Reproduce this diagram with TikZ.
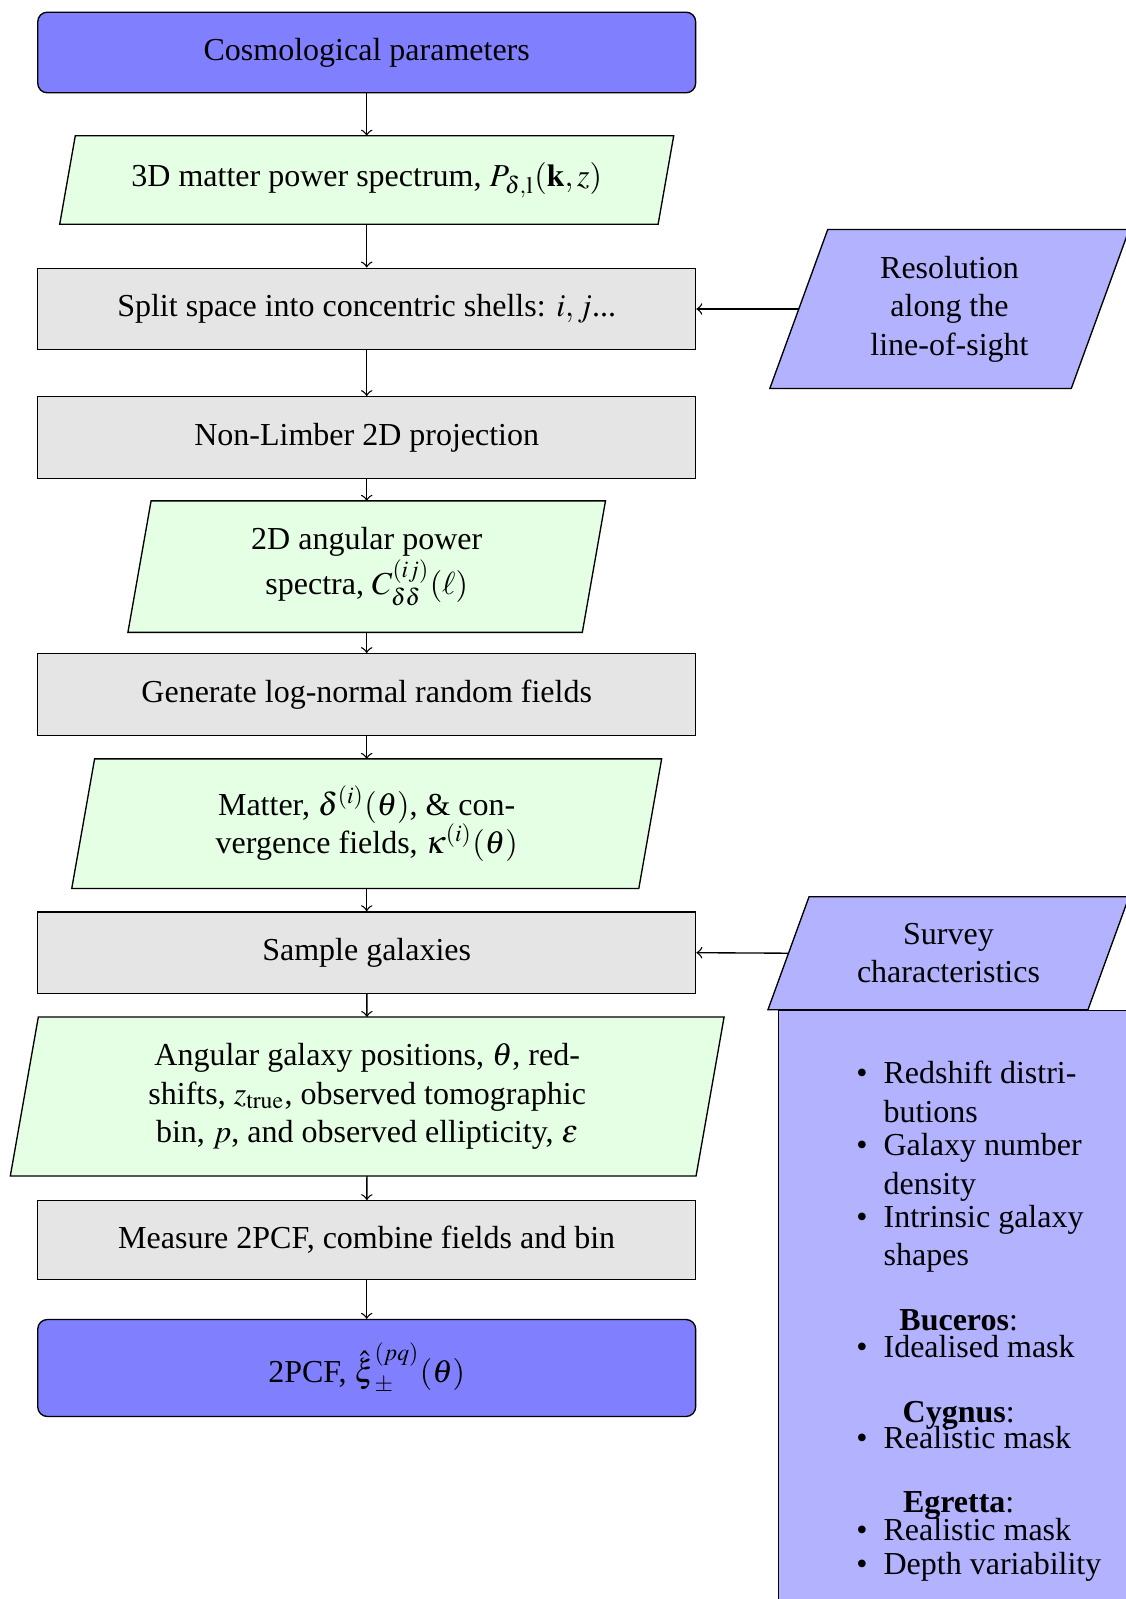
\documentclass[tikz,border=0pt]{standalone}
\usepackage{amsmath}
\usepackage{mathptmx}
\usepackage{fontspec}
\setmainfont{Liberation Serif}
\usetikzlibrary{backgrounds}

% slanted (parallelogram) frame drawn around a named node:
% #1 style, #2 node name, #3 half the horizontal slant offset
\newcommand\slantframe[3]{%
  \path[#1] ([xshift=#3]#2.north west) -- ([xshift=#3]#2.north east)
    -- ([xshift=-#3]#2.south east) -- ([xshift=-#3]#2.south west) -- cycle;}

\begin{document}
\begin{tikzpicture}[x=0.3125pt, y=-0.3125pt,
  base/.style={draw, inner sep=2pt, line width=0.42pt},
  terminal/.style={base, rectangle, rounded corners=3pt, fill=blue!50, minimum width=205.6pt},
  process/.style={base, rectangle, fill=gray!20, minimum width=205.6pt, minimum height=25.5pt},
  slanted/.style={rectangle, inner sep=2pt, outer sep=0pt, align=center},
  datashape/.style={draw, line width=0.42pt, fill=green!10},
  inputshape/.style={draw, line width=0.42pt, fill=blue!30},
  listbox/.style={base, rectangle, fill=blue!30},
  flow/.style={->, line width=0.42pt}]

\useasboundingbox (0,0) rectangle (1125,1599);
\clip (0,0) rectangle (1125,1599);

% main pipeline
\node[terminal, minimum height=25.2pt] (cosmo) at (366.7,52.5) {Cosmological parameters};
\node[slanted, minimum width=187.0pt, minimum height=27.7pt] (power) at (366.7,180)
  {3D matter power spectrum, $P_{\delta,\mathrm{l}}(\mathbf{k},z)$};
\node[process] (shells) at (366.7,309) {Split space into concentric shells: $i, j$...};
\node[process] (limber) at (366.7,437.6) {Non-Limber 2D projection};
\node[slanted, minimum width=142.0pt, minimum height=41.1pt] (cls) at (366.7,566.6)
  {2D angular power\\spectra, $C^{(ij)}_{\delta\delta}(\ell)$};
\node[process] (lognormal) at (366.7,694.6) {Generate log-normal random fields};
\node[slanted, minimum width=177.2pt, minimum height=40.5pt] (fields) at (366.7,823.7)
  {Matter, $\delta^{(i)}(\boldsymbol{\theta})$, \& con-\\vergence fields, $\boldsymbol{\kappa}^{(i)}(\boldsymbol{\theta})$};
\node[process] (sample) at (366.7,952.7) {Sample galaxies};
\node[slanted, minimum width=214.3pt, minimum height=49.7pt] (catalogue) at (367.2,1096.5)
  {Angular galaxy positions, $\boldsymbol{\theta}$, red-\\shifts, $z_{\mathrm{true}}$, observed tomographic\\bin, $p$, and observed ellipticity, $\boldsymbol{\varepsilon}$};
\node[process, minimum height=24.5pt] (measure) at (366.7,1240) {Measure 2PCF, combine fields and bin};
\node[terminal, minimum height=30.3pt] (result) at (366.7,1368)
  {2PCF, $\hat{\boldsymbol{\xi}}^{(pq)}_{\pm}(\boldsymbol{\theta})$};

% side inputs
\node[slanted, minimum width=94.2pt, minimum height=49.7pt] (resolution) at (949.5,309)
  {Resolution\\along the\\line-of-sight};
\node[slanted, minimum width=100.0pt, minimum height=35.3pt] (survey) at (948.5,953.2)
  {Survey\\characteristics};
% survey details, anchored on the baseline of the last line
\node[anchor=base west, inner sep=0pt, align=left] (charlist) at (883,1574)
  {\llap{\textbullet\hspace{5pt}}Redshift distri-\\[0.2pt]
   butions\\[-1.8pt]
   \llap{\textbullet\hspace{5pt}}Galaxy number\\[0.2pt]
   density\\[-1.8pt]
   \llap{\textbullet\hspace{5pt}}Intrinsic galaxy\\[0.1pt]
   shapes\\[8.1pt]
   \makebox[46.9pt][c]{\textbf{Buceros}:}\\[-3.4pt]
   \llap{\textbullet\hspace{5pt}}Idealised mask\\[8.1pt]
   \makebox[46.9pt][c]{\textbf{Cygnus}:}\\[-3.7pt]
   \llap{\textbullet\hspace{5pt}}Realistic mask\\[8.1pt]
   \makebox[46.9pt][c]{\textbf{Egretta}:}\\[-3.4pt]
   \llap{\textbullet\hspace{5pt}}Realistic mask\\[-1.5pt]
   \llap{\textbullet\hspace{5pt}}Depth variability};

% parallelogram frames and the details box, behind the texts
\begin{scope}[on background layer]
  \slantframe{datashape}{power}{2.44pt}
  \slantframe{datashape}{cls}{3.62pt}
  \slantframe{datashape}{fields}{3.57pt}
  \slantframe{datashape}{catalogue}{4.38pt}
  \slantframe{inputshape}{resolution}{9.05pt}
  \node[listbox, anchor=north west, minimum width=140pt, minimum height=220pt] (charbox) at (778,1009.8) {};
  \slantframe{inputshape}{survey}{6.42pt}
\end{scope}

% connectors
\draw[flow] (cosmo) -- (power);
\draw[flow] (power) -- (shells);
\draw[flow] (shells) -- (limber);
\draw[flow] (limber) -- (cls);
\draw[flow] (cls) -- (lognormal);
\draw[flow] (lognormal) -- (fields);
\draw[flow] (fields) -- (sample);
\draw[flow] (sample) -- (catalogue);
\draw[flow] (catalogue) -- (measure);
\draw[flow] (measure) -- (result);
\draw[flow] (resolution.west) -- (shells.east);
\draw[flow] (survey.west) -- (sample.east);
\end{tikzpicture}
\end{document}
